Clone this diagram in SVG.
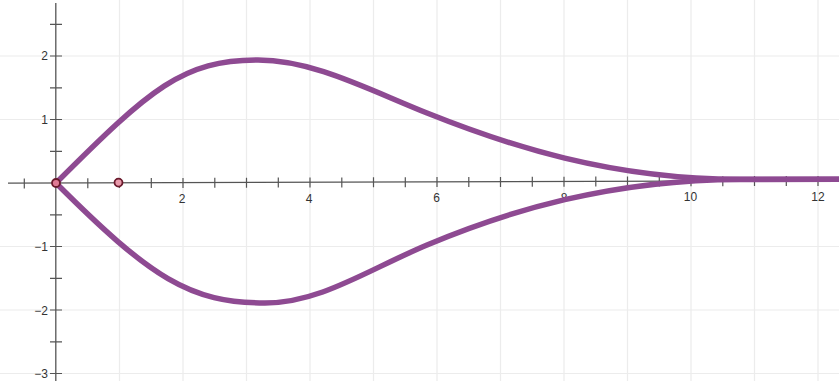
<svg xmlns="http://www.w3.org/2000/svg" width="839" height="381" viewBox="0 0 839 381">
<style>
.grid{stroke:#ececec;stroke-width:1.2;fill:none}
.axis{stroke:#555;stroke-width:1.3;fill:none}
.tick{stroke:#555;stroke-width:1.2}
.lbl{font-family:"Liberation Sans",Arial,sans-serif;font-size:12px;fill:#333}
.curve{stroke:#8e4a92;stroke-width:5.5;fill:none;stroke-linejoin:round;stroke-linecap:round}
.pt{stroke:#6a1a2c;stroke-width:1.8}
</style>
<rect width="839" height="381" fill="#ffffff"/>
<g id="grid" class="grid">
<path d="M119.5 0V381M183 0V381M246.5 0V381M310 0V381M373.5 0V381M437 0V381M500.5 0V381M564 0V381M627.5 0V381M691 0V381M754.5 0V381M818 0V381"/>
<path d="M0 56H839M0 119.5H839M0 246.5H839M0 310H839M0 373.5H839"/>
</g>
<g id="axes">
<line class="axis" x1="8" y1="183.2" x2="839" y2="180.6"/>
<line class="axis" x1="55.8" y1="3" x2="55.8" y2="381"/>
</g>
<g id="ticks" class="tick">
<path d="M24.3 178.4v10M87.8 178.2v10M119.5 178.1v10M151.3 178v10M183 177.9v10M214.8 177.8v10M246.5 177.7v10M278.3 177.6v10M310 177.5v10M341.8 177.4v10M373.5 177.3v10M405.3 177.2v10M437 177.1v10M468.8 177v10M500.5 176.9v10M532.3 176.8v10M564 176.7v10M595.8 176.6v10M627.5 176.5v10M659.3 176.4v10M691 176.3v10M722.8 176.2v10M754.5 176.1v10M786.3 176v10M818 175.9v10"/>
<path d="M50 24.3h12M50 56h12M50 87.8h12M50 119.5h12M50 151.3h12M50 214.8h12M50 246.5h12M50 278.3h12M50 310h12M50 341.8h12M50 373.5h12"/>
</g>
<g id="labels" class="lbl">
<text x="182" y="203" text-anchor="middle">2</text>
<text x="309" y="203" text-anchor="middle">4</text>
<text x="436.5" y="202" text-anchor="middle">6</text>
<text x="564" y="202" text-anchor="middle">8</text>
<text x="690.5" y="201" text-anchor="middle">10</text>
<text x="818" y="201" text-anchor="middle">12</text>
<text x="48" y="60" text-anchor="end">2</text>
<text x="48" y="124" text-anchor="end">1</text>
<text x="48" y="251" text-anchor="end">−1</text>
<text x="48" y="314.5" text-anchor="end">−2</text>
<text x="48" y="378" text-anchor="end">−3</text>
</g>
<g id="curves">
<path class="curve" d="M56 183C151 88 183 60 258 60C313 60 367 89 427 113C507 145 610 179.2 740 179.3L839 179.3"/>
<path class="curve" d="M56 183C151 278 190 303 265 303C320 303 367 270.2 427 245C507 211.4 610 179.6 740 179.4L839 179.3"/>
</g>
<g id="points">
<circle id="p0" class="pt" cx="56" cy="183" r="4" fill="#e07a95"/>
<circle id="p1" class="pt" cx="118.5" cy="182.6" r="4" fill="#e89aab"/>
</g>
</svg>
